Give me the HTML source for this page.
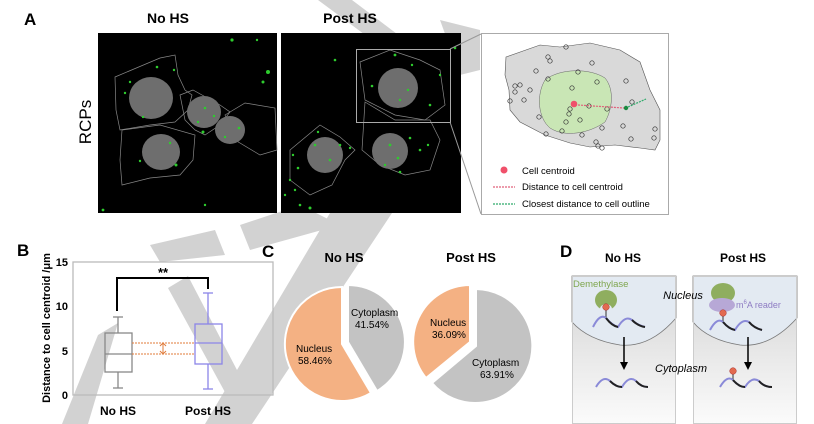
<!DOCTYPE html>
<html><head><meta charset="utf-8"><style>
body{margin:0;background:#fff;}
svg{display:block;font-family:"Liberation Sans",Arial,sans-serif;}
</style></head><body>
<svg width="814" height="424" viewBox="0 0 814 424" xmlns="http://www.w3.org/2000/svg">
<g fill="#d2d2d2">
<path d="M318,0 L352,0 L405,40 L372,40 Z"/>
<path d="M440,20 L480,30 L480,70 L460,75 Z"/>
<path d="M330,213 L392,213 L252,424 L205,424 Z"/>
<path d="M240,225 L300,205 L340,225 L250,250 Z"/>
<path d="M168,288 L188,276 L250,395 L232,405 Z"/>
<path d="M98,335 L118,323 L88,424 L62,424 Z"/>
<path d="M150,245 L215,230 L225,255 L160,262 Z"/>
</g>

<text x="24" y="25" font-size="17" font-weight="bold">A</text>
<text x="168" y="23" font-size="14" font-weight="bold" text-anchor="middle">No HS</text>
<text x="350" y="23" font-size="14" font-weight="bold" text-anchor="middle">Post HS</text>
<text transform="translate(91,122) rotate(-90)" font-size="17" text-anchor="middle">RCPs</text>

<rect x="98" y="33" width="179" height="180" fill="#000"/>
<rect x="281" y="33" width="180" height="180" fill="#000"/>
<g fill="none" stroke="#888" stroke-width="0.7">
<path d="M115,77 L160,58 L175,55 L178,75 L185,90 L192,95 L188,110 L175,122 L150,125 L120,130 L116,110 Z"/>
<path d="M122,130 L160,125 L195,135 L193,160 L180,175 L150,178 L122,185 L120,160 Z"/>
<path d="M180,95 L193,90 L220,105 L230,112 L220,125 L205,135 L195,130 L185,120 Z"/>
<path d="M225,115 L245,103 L275,108 L277,150 L260,155 L235,140 Z"/>
<path d="M360,62 L390,50 L420,60 L440,70 L445,105 L425,120 L395,115 L365,100 Z"/>
<path d="M365,102 L395,120 L430,120 L440,140 L430,170 L405,175 L380,165 L362,150 Z"/>
<path d="M290,150 L320,125 L340,137 L355,150 L345,160 L332,185 L310,195 L290,180 Z"/>
</g>
<g fill="#6e6e6e">
<ellipse cx="151" cy="98" rx="22" ry="21"/>
<ellipse cx="204" cy="112" rx="17" ry="16"/>
<ellipse cx="230" cy="130" rx="15" ry="14"/>
<ellipse cx="161" cy="152" rx="19" ry="18"/>
<ellipse cx="398" cy="88" rx="20" ry="20"/>
<ellipse cx="390" cy="151" rx="18" ry="18"/>
<ellipse cx="325" cy="155" rx="18" ry="18"/>
</g>
<g fill="#2ecc2e">
<circle cx="232" cy="40" r="1.6"/><circle cx="268" cy="72" r="2"/><circle cx="263" cy="82" r="1.5"/><circle cx="257" cy="40" r="1.2"/>
<circle cx="157" cy="67" r="1.3"/><circle cx="174" cy="70" r="1.2"/><circle cx="130" cy="82" r="1.2"/><circle cx="125" cy="93" r="1.2"/>
<circle cx="205" cy="108" r="1.3"/><circle cx="214" cy="116" r="1.2"/><circle cx="198" cy="122" r="1.2"/><circle cx="239" cy="128" r="1.3"/>
<circle cx="225" cy="137" r="1.2"/><circle cx="176" cy="165" r="1.5"/><circle cx="140" cy="161" r="1.2"/><circle cx="170" cy="143" r="1.2"/>
<circle cx="203" cy="132" r="1.5"/><circle cx="143" cy="117" r="1.2"/><circle cx="103" cy="210" r="1.4"/><circle cx="205" cy="205" r="1.2"/>
<circle cx="395" cy="55" r="1.4"/><circle cx="372" cy="86" r="1.3"/><circle cx="408" cy="90" r="1.2"/><circle cx="400" cy="100" r="1.2"/>
<circle cx="412" cy="65" r="1.2"/><circle cx="430" cy="105" r="1.3"/><circle cx="440" cy="75" r="1.2"/><circle cx="335" cy="60" r="1.3"/>
<circle cx="390" cy="145" r="1.4"/><circle cx="398" cy="158" r="1.3"/><circle cx="385" cy="165" r="1.2"/><circle cx="410" cy="138" r="1.3"/>
<circle cx="420" cy="150" r="1.3"/><circle cx="428" cy="145" r="1.2"/><circle cx="400" cy="172" r="1.3"/><circle cx="315" cy="145" r="1.3"/>
<circle cx="330" cy="160" r="1.3"/><circle cx="340" cy="145" r="1.3"/><circle cx="293" cy="155" r="1.2"/><circle cx="298" cy="168" r="1.3"/>
<circle cx="290" cy="180" r="1.2"/><circle cx="295" cy="190" r="1.2"/><circle cx="300" cy="205" r="1.3"/><circle cx="310" cy="208" r="1.5"/>
<circle cx="285" cy="195" r="1.2"/><circle cx="318" cy="132" r="1.2"/><circle cx="350" cy="148" r="1.2"/><circle cx="455" cy="48" r="1.3"/>
</g>
<rect x="356.5" y="49.5" width="94" height="73" fill="none" stroke="#aaa" stroke-width="1"/>
<line x1="450" y1="49" x2="481" y2="34" stroke="#999" stroke-width="1"/>
<line x1="450" y1="122" x2="481" y2="214" stroke="#999" stroke-width="1"/>

<rect x="481.5" y="33.5" width="187" height="181" fill="#fff" stroke="#aaa" stroke-width="1"/>
<path d="M506,57 L540,45 L560,47 L590,43 L620,50 L640,62 L650,90 L660,110 L660,140 L655,150 L640,148 L615,145 L590,147 L570,143 L545,135 L520,122 L510,110 L509,90 L505,75 Z" fill="#d9d9d9" stroke="#555" stroke-width="0.6"/>
<path d="M545,80 C560,68 590,68 605,78 C615,90 612,110 605,122 C590,133 565,138 550,128 C538,118 536,95 545,80 Z" fill="#c9e6b5" stroke="#666" stroke-width="0.5"/>
<g fill="none" stroke="#333" stroke-width="0.7">
<circle cx="566" cy="47" r="2.2"/><circle cx="548" cy="57" r="2.2"/><circle cx="550" cy="61" r="2.2"/><circle cx="592" cy="63" r="2.2"/>
<circle cx="536" cy="71" r="2.2"/><circle cx="578" cy="72" r="2.2"/><circle cx="548" cy="79" r="2.2"/><circle cx="597" cy="82" r="2.2"/>
<circle cx="626" cy="81" r="2.2"/><circle cx="515" cy="86" r="2.2"/><circle cx="520" cy="85" r="2.2"/><circle cx="530" cy="90" r="2.2"/>
<circle cx="572" cy="88" r="2.2"/><circle cx="515" cy="92" r="2.2"/><circle cx="510" cy="101" r="2.2"/><circle cx="524" cy="100" r="2.2"/>
<circle cx="632" cy="102" r="2.2"/><circle cx="589" cy="106" r="2.2"/><circle cx="607" cy="109" r="2.2"/><circle cx="570" cy="109" r="2.2"/>
<circle cx="569" cy="114" r="2.2"/><circle cx="539" cy="117" r="2.2"/><circle cx="580" cy="120" r="2.2"/><circle cx="566" cy="122" r="2.2"/>
<circle cx="623" cy="126" r="2.2"/><circle cx="602" cy="128" r="2.2"/><circle cx="655" cy="129" r="2.2"/><circle cx="562" cy="131" r="2.2"/>
<circle cx="546" cy="134" r="2.2"/><circle cx="582" cy="135" r="2.2"/><circle cx="631" cy="139" r="2.2"/><circle cx="654" cy="138" r="2.2"/>
<circle cx="596" cy="142" r="2.2"/><circle cx="598" cy="146" r="2.2"/><circle cx="602" cy="148" r="2.2"/>
</g>
<circle cx="574" cy="104" r="3.3" fill="#f0506a"/>
<line x1="578" y1="105" x2="624" y2="108" stroke="#e0607a" stroke-width="1.2" stroke-dasharray="2,1"/>
<circle cx="626" cy="108" r="2.2" fill="#1a8a40"/>
<line x1="628" y1="107" x2="646" y2="99" stroke="#2eaa6a" stroke-width="1.2" stroke-dasharray="2,1"/>
<circle cx="504" cy="170" r="3.5" fill="#f0506a"/>
<text x="522" y="174" font-size="9.5">Cell centroid</text>
<line x1="493" y1="187" x2="515" y2="187" stroke="#e0607a" stroke-width="1.2" stroke-dasharray="2,1"/>
<text x="522" y="190" font-size="9.5">Distance to cell centroid</text>
<line x1="493" y1="204" x2="515" y2="204" stroke="#2eaa6a" stroke-width="1.2" stroke-dasharray="2,1"/>
<text x="522" y="207" font-size="9.5">Closest distance to cell outline</text>

<text x="17" y="256" font-size="17" font-weight="bold">B</text>
<rect x="73" y="262" width="200" height="133" fill="none" stroke="#bbb" stroke-width="1.3"/>
<g font-size="11" font-weight="bold" text-anchor="end">
<text x="68" y="266">15</text><text x="68" y="310">10</text><text x="68" y="355">5</text><text x="68" y="399">0</text>
</g>
<text transform="translate(50,328) rotate(-90)" font-size="11" font-weight="bold" text-anchor="middle">Distance to cell centroid /μm</text>
<g stroke="#888" stroke-width="1.3" fill="none">
<line x1="118" y1="317" x2="118" y2="333"/><line x1="118" y1="372" x2="118" y2="388"/>
<line x1="113" y1="317" x2="123" y2="317"/><line x1="113" y1="388" x2="123" y2="388"/>
<rect x="105" y="333" width="27" height="39"/><line x1="105" y1="354" x2="132" y2="354"/>
</g>
<g stroke="#8c85e8" stroke-width="1.3" fill="none">
<line x1="208" y1="293" x2="208" y2="324"/><line x1="208" y1="364" x2="208" y2="389"/>
<line x1="203" y1="293" x2="213" y2="293"/><line x1="203" y1="389" x2="213" y2="389"/>
<rect x="195" y="324" width="27" height="40"/><line x1="195" y1="343" x2="222" y2="343"/>
</g>
<line x1="132" y1="343" x2="195" y2="343" stroke="#e07b3a" stroke-width="0.9" stroke-dasharray="2,1"/>
<line x1="132" y1="354" x2="195" y2="354" stroke="#e07b3a" stroke-width="0.9" stroke-dasharray="2,1"/>
<line x1="163" y1="344" x2="163" y2="353" stroke="#e07b3a" stroke-width="1"/>
<path d="M160,346 L163,343 L166,346 M160,351 L163,354 L166,351" stroke="#e07b3a" fill="none"/>
<path d="M117,311 L117,278 L208,278 L208,289" stroke="#000" stroke-width="2" fill="none"/>
<text x="163" y="277" font-size="13" font-weight="bold" text-anchor="middle">**</text>
<text x="118" y="415" font-size="12" font-weight="bold" text-anchor="middle">No HS</text>
<text x="208" y="415" font-size="12" font-weight="bold" text-anchor="middle">Post HS</text>

<text x="262" y="257" font-size="17" font-weight="bold">C</text>
<text x="344" y="262" font-size="13" font-weight="bold" text-anchor="middle">No HS</text>
<text x="471" y="262" font-size="13" font-weight="bold" text-anchor="middle">Post HS</text>
<path d="M348,342 L348,285 A57,57 0 0 1 377,391 Z" fill="#c3c3c3" stroke="#fff" stroke-width="2"/>
<path d="M342,344 L371,393 A57,57 0 1 1 342,287 Z" fill="#f4b183" stroke="#fff" stroke-width="2"/>
<text x="351" y="316" font-size="10">Cytoplasm</text><text x="355" y="328" font-size="10">41.54%</text>
<text x="296" y="352" font-size="10">Nucleus</text><text x="298" y="364" font-size="10">58.46%</text>
<path d="M476,346 L476,289 A57,57 0 1 1 432,383 Z" fill="#c3c3c3" stroke="#fff" stroke-width="2"/>
<path d="M470,342 L426,378 A57,57 0 0 1 470,285 Z" fill="#f4b183" stroke="#fff" stroke-width="2"/>
<text x="430" y="326" font-size="10">Nucleus</text><text x="432" y="338" font-size="10">36.09%</text>
<text x="472" y="366" font-size="10">Cytoplasm</text><text x="480" y="378" font-size="10">63.91%</text>

<text x="560" y="257" font-size="17" font-weight="bold">D</text>
<text x="623" y="262" font-size="12" font-weight="bold" text-anchor="middle">No HS</text>
<text x="743" y="262" font-size="12" font-weight="bold" text-anchor="middle">Post HS</text>
<defs>
<linearGradient id="cy" x1="0" y1="0" x2="0" y2="1"><stop offset="0" stop-color="#d2d2d2"/><stop offset="0.6" stop-color="#ebebeb"/><stop offset="1" stop-color="#fbfbfb"/></linearGradient>
</defs>
<rect x="572" y="276" width="104" height="148" fill="url(#cy)"/>
<path d="M572,276 L676,276 L676,318 Q650,348 620,345 Q588,340 572,322 Z" fill="#e3eaf2" stroke="#777" stroke-width="0.8"/>
<rect x="693" y="276" width="104" height="148" fill="url(#cy)"/>
<path d="M693,276 L797,276 L797,318 Q770,348 740,345 Q708,340 693,322 Z" fill="#e3eaf2" stroke="#777" stroke-width="0.8"/>
<rect x="572.5" y="276.5" width="103" height="147" fill="none" stroke="#ccc"/>
<rect x="693.5" y="276.5" width="103" height="147" fill="none" stroke="#ccc"/>

<text x="573" y="287" font-size="9.5" fill="#7fa64e">Demethylase</text>
<ellipse cx="606" cy="300" rx="11" ry="10" fill="#8fae5f"/>
<ellipse cx="606" cy="309" rx="6" ry="5" fill="#e3eaf2"/>
<line x1="606" y1="307" x2="606" y2="318" stroke="#333" stroke-width="1"/>
<circle cx="606" cy="307" r="3.3" fill="#e26a50" stroke="#a33" stroke-width="0.5"/>
<path d="M593,327 Q600,313 606,318 Q612,325 618,327 Q625,315 632,320 Q637,325 645,327" fill="none" stroke="#8a8ad8" stroke-width="2"/>
<path d="M606,318 Q612,326 618,327 M632,320 Q638,326 645,327" fill="none" stroke="#222" stroke-width="2"/>
<line x1="624" y1="337" x2="624" y2="364" stroke="#000" stroke-width="1.5"/>
<path d="M620,362 L624,370 L628,362 Z" fill="#000"/>
<path d="M596,387 Q603,375 610,381 Q616,387 622,387 Q629,375 636,381 Q641,387 648,387" fill="none" stroke="#8a8ad8" stroke-width="2"/>
<path d="M610,381 Q616,387 622,387 M636,381 Q641,387 648,387" fill="none" stroke="#222" stroke-width="2"/>
<text x="683" y="299" font-size="11" font-style="italic" text-anchor="middle">Nucleus</text>
<text x="681" y="372" font-size="11" font-style="italic" text-anchor="middle">Cytoplasm</text>
<ellipse cx="723" cy="293" rx="12" ry="10" fill="#8fae5f"/>
<ellipse cx="722" cy="305" rx="13" ry="7" fill="#b7a8d6"/>
<text x="736" y="308" font-size="9" fill="#8e7cc3">m<tspan font-size="6" dy="-4">6</tspan><tspan dy="4">A reader</tspan></text>
<line x1="723" y1="313" x2="723" y2="321" stroke="#333" stroke-width="1"/>
<circle cx="723" cy="313" r="3.3" fill="#e26a50" stroke="#a33" stroke-width="0.5"/>
<path d="M710,330 Q717,317 723,322 Q729,329 735,330 Q742,318 749,322 Q754,328 762,330" fill="none" stroke="#8a8ad8" stroke-width="2"/>
<path d="M723,322 Q729,329 735,330 M749,322 Q754,328 762,330" fill="none" stroke="#222" stroke-width="2"/>
<line x1="748" y1="337" x2="748" y2="364" stroke="#000" stroke-width="1.5"/>
<path d="M744,362 L748,370 L752,362 Z" fill="#000"/>
<line x1="733" y1="372" x2="733" y2="380" stroke="#333" stroke-width="1"/>
<circle cx="733" cy="371" r="3.3" fill="#e26a50" stroke="#a33" stroke-width="0.5"/>
<path d="M720,387 Q727,375 733,380 Q739,387 745,387 Q752,376 759,381 Q764,387 772,387" fill="none" stroke="#8a8ad8" stroke-width="2"/>
<path d="M733,380 Q739,387 745,387 M759,381 Q764,387 772,387" fill="none" stroke="#222" stroke-width="2"/>
</svg>
</body></html>
